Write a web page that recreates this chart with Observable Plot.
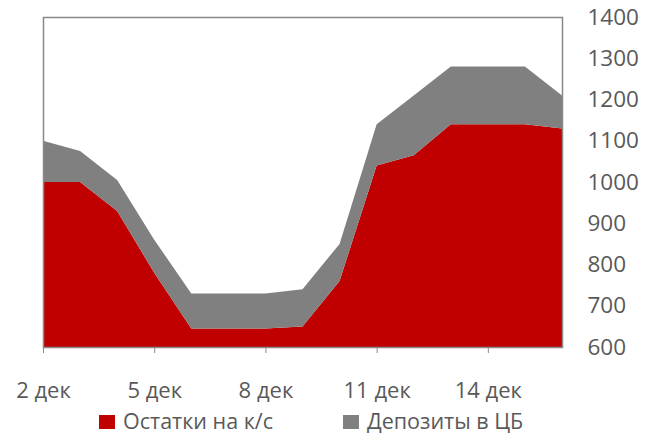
<!DOCTYPE html>
<html><head><meta charset="utf-8">
<script src="https://cdn.jsdelivr.net/npm/d3@7"></script>
<script src="https://cdn.jsdelivr.net/npm/@observablehq/plot@0.6"></script>
<style>
body{margin:0;background:#fff;font-family:"Open Sans",sans-serif;overflow:hidden;}
#wrap{position:relative;width:645px;height:435px;}
#chart svg{display:block;}
#legend{position:absolute;left:0;top:406px;width:645px;height:29px;font-size:21.5px;line-height:29px;color:#595959;}
.item{position:absolute;top:0;height:29px;display:flex;align-items:center;}
.sw{width:16px;height:14px;margin-right:8px;margin-top:3px;}
</style></head><body><div id="wrap"><div id="chart"></div><div id="legend"></div></div>
<script>
const days = [2,3,4,5,6,7,8,9,10,11,12,13,14,15,16];
const ostatki = [1000,1000,930,780,645,645,645,650,760,1040,1065,1140,1140,1140,1130];
const depozity = [100,75,75,80,85,85,85,90,90,100,145,140,140,140,80];
const xTicks = [2,5,8,11,14];
const yTicks = [600,700,800,900,1000,1100,1200,1300,1400];
const seriesNames = ["Остатки на к/с","Депозиты в ЦБ"];
const colors = ["#C00000","#808080"];

const data = [];
days.forEach((d,i)=>{
  data.push({day:d, series:seriesNames[0], value:ostatki[i]});
  data.push({day:d, series:seriesNames[1], value:depozity[i]});
});

const chart = Plot.plot({
  width:645, height:435, marginLeft:43, marginRight:83, marginTop:17, marginBottom:88,
  style:{fontFamily:"'Open Sans', sans-serif", fontSize:"22.5px", color:"#595959", background:"transparent"},
  x:{domain:[2,16], label:null},
  y:{domain:[600,1400], label:null},
  color:{domain:seriesNames, range:colors},
  marks:[
    Plot.areaY(data,{x:"day", y:"value", fill:"series", clip:true}),
    Plot.frame({stroke:"#898989", strokeWidth:1.5}),
    Plot.axisX({ticks:xTicks, tickFormat:d=>`${d} дек`, tickSize:6, tickPadding:29, fontSize:22, stroke:"#898989", fill:"#595959", label:null}),
    Plot.axisY({anchor:"right", ticks:yTicks, tickFormat:d=>String(d), tickSize:0, tickPadding:25, textAnchor:"start", fill:"#595959", label:null})
  ]
});
document.getElementById("chart").appendChild(chart);

const legend = document.getElementById("legend");
const lx = [99, 343];
seriesNames.forEach((name,i)=>{
  const it = document.createElement("div");
  it.className = "item";
  it.style.left = lx[i] + "px";
  it.innerHTML = `<div class="sw" style="background:${colors[i]}"></div><span>${name}</span>`;
  legend.appendChild(it);
});
</script>
</body></html>
